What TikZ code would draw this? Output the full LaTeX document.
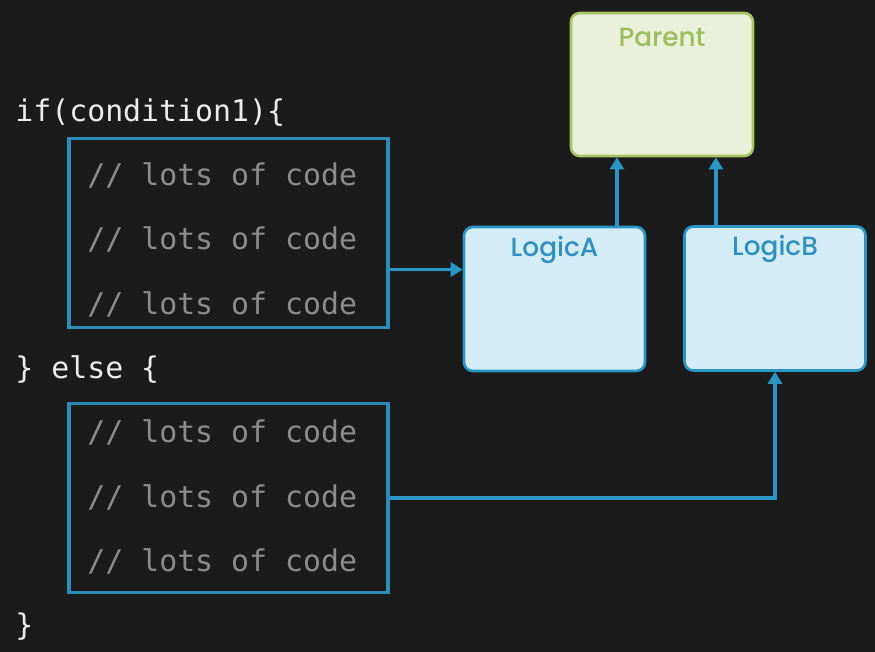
\documentclass[tikz,border=0pt]{standalone}
\usepackage{fontspec}
\setmonofont{DejaVu Sans Mono}
\newfontfamily\boxfont{Poppins}[UprightFont=* Medium]
\usetikzlibrary{
  positioning,
  arrows.meta,
  calc
}
\definecolor{bgDark}{HTML}{1B1B1C}
\definecolor{codeWhite}{HTML}{ECECEC}
\definecolor{codeGrey}{HTML}{8C8C8C}
\definecolor{lgBlue}{HTML}{2D8DB8}
\definecolor{lgBlueL}{HTML}{D4ECF8}
\definecolor{lgBlueT}{HTML}{2E8FC3}
\definecolor{lgArrow}{HTML}{2A96C6}
\definecolor{lgGreen}{HTML}{A8C463}
\definecolor{lgGreenL}{HTML}{EAF0D9}
\definecolor{lgGreenT}{HTML}{9BBD5C}

\begin{document}
\begin{tikzpicture}[
  x=0.02cm, y=-0.02cm,
  every node/.style={inner sep=0pt},
  code/.style={
    font=\ttfamily\fontsize{17}{20}\selectfont,
    text=codeWhite, anchor=base west
  },
  comment/.style={code, text=codeGrey},
  block/.style={
    rectangle, draw=lgBlue, line width=1.9pt,
    minimum width=6.38cm, minimum height=3.78cm
  },
  logic/.style={
    rectangle, rounded corners=5pt,
    draw=lgArrow, fill=lgBlueL, line width=1.5pt,
    minimum width=3.62cm, minimum height=2.88cm
  },
  parentbox/.style={
    logic, draw=lgGreen, fill=lgGreenL,
    minimum width=3.64cm, minimum height=2.86cm
  },
  boxtitle/.style={font=\boxfont\fontsize{15}{17}\selectfont, text=lgBlueT},
  flow/.style={-{Triangle[length=2.4mm,width=2.8mm]}, draw=lgArrow, line width=2.2pt}
]
 % Dark slide background
 \fill[bgDark] (0,0) rectangle (875,652);
 \useasboundingbox (0,0) rectangle (875,652);

 % Code on the left
 \node[code] (ifl) at (15,121) {if(condition1)\{};
 \node[comment] (c11) at (87,185.3) {// lots of code};
 \node[comment] (c12) at (87,249.6) {// lots of code};
 \node[comment] (c13) at (87,314) {// lots of code};
 \node[code] (elsel) at (15,378) {\} else \{};
 \node[comment] (c21) at (87,442.5) {// lots of code};
 \node[comment] (c22) at (87,507) {// lots of code};
 \node[comment] (c23) at (87,571) {// lots of code};
 \node[code] (endl) at (15,635) {\}};

 % Frames round the two branches
 \node[block] (code1) at (228.5,233) {};
 \node[block] (code2) at (228.5,498) {};

 % Components on the right
 \node[parentbox] (parent) at (662,84.5) {};
 \node[logic] (logicA) at (554.5,299) {};
 \node[logic] (logicB) at (775,298.5) {};
 \node[boxtitle, text=lgGreenT] (tP) at (662,37) {Parent};
 \node[boxtitle] (tA) at (554.5,250) {LogicA};
 \node[boxtitle] (tB) at (775,249) {LogicB};

 % Branches move into the logic components
 \coordinate (o1) at ($(code1.north east)!0.69!(code1.south east)$);
 \draw[flow] (o1) -- (logicA.west |- o1);
 \draw[flow] (code2.east) -| (logicB.south);

 % Logic components report to the parent
 \coordinate (uA) at ($(logicA.north west)!0.84!(logicA.north east)$);
 \coordinate (uB) at ($(logicB.north west)!0.178!(logicB.north east)$);
 \draw[flow] (uA) -- (uA |- parent.south);
 \draw[flow] (uB) -- (uB |- parent.south);
\end{tikzpicture}
\end{document}
